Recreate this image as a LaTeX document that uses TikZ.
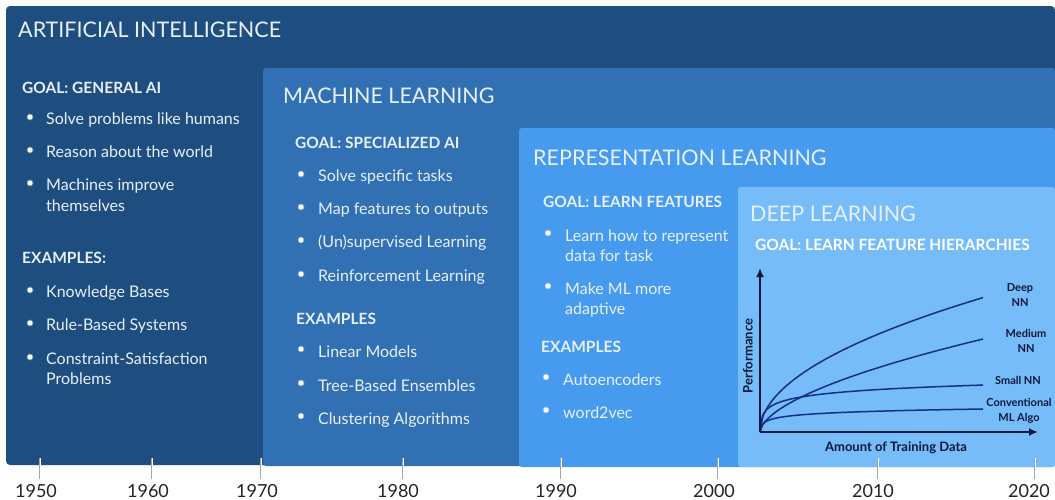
\documentclass[tikz,border=0pt]{standalone}
\usepackage{fontspec}
\setmainfont{Lato}
\definecolor{aiblue}{RGB}{30,78,128}
\definecolor{mlblue}{RGB}{50,112,180}
\definecolor{rlblue}{RGB}{70,155,238}
\definecolor{dlblue}{RGB}{118,188,248}
\definecolor{txtwhite}{RGB}{232,240,248}
\definecolor{curveblue}{RGB}{24,44,138}
\definecolor{chartink}{RGB}{14,24,58}
\definecolor{tickgray}{RGB}{165,165,165}
\definecolor{yeargray}{RGB}{35,35,35}
\usetikzlibrary{arrows.meta,positioning}

\begin{document}
\begin{tikzpicture}[x=1pt, y=-1pt,
    ttl/.style={anchor=base west, inner sep=0pt, text=txtwhite,
                font=\fontsize{21.5}{25}\selectfont},
    goal/.style={anchor=base west, inner sep=0pt, text=txtwhite,
                 font=\fontsize{15.5}{18}\selectfont\bfseries},
    item/.style={anchor=base west, inner sep=0pt, text=txtwhite,
                  font=\fontsize{16}{19}\selectfont},
    dot/.style={circle, fill=white, draw=white, draw opacity=0.35,
                line width=1.8pt, minimum size=5pt, inner sep=0pt},
    lbl/.style={align=center, inner sep=0pt, text=chartink,
                font=\fontsize{11}{15}\selectfont\bfseries},
    axis/.style={line width=2pt, chartink, -{Latex[length=9pt,width=8pt]}},
    curve/.style={line width=1.5pt, curveblue},
    tick/.style={draw=tickgray, double=white, double distance=1pt, line width=0.7pt},
    year/.style={anchor=base, inner sep=0pt, text=yeargray,
                 font=\fontsize{18}{20}\selectfont},
    >=stealth
  ]
    \useasboundingbox (0,0) rectangle (1055,499);

    % Nested boxes
    \fill[aiblue, rounded corners=4pt] (6,6) rectangle (1055,465);
    \fill[mlblue, rounded corners=3pt] (263,68) rectangle (1055,466);
    \fill[rlblue, rounded corners=3pt] (519,128) rectangle (1055,467);
    \fill[dlblue, rounded corners=3pt] (738,187) rectangle (1055,467);

    % Timeline ticks
    \coordinate (t50a) at (40,458);   \coordinate (t50b) at (40,479);
    \coordinate (t60a) at (152,458);  \coordinate (t60b) at (152,479);
    \coordinate (t70a) at (261,458);  \coordinate (t70b) at (261,479);
    \coordinate (t80a) at (403,458);  \coordinate (t80b) at (403,479);
    \coordinate (t90a) at (561,458);  \coordinate (t90b) at (561,479);
    \coordinate (t00a) at (718,458);  \coordinate (t00b) at (718,479);
    \coordinate (t10a) at (878,458);  \coordinate (t10b) at (878,479);
    \coordinate (t20a) at (1035,458); \coordinate (t20b) at (1035,479);
    \draw[tick] (t50a) -- (t50b);
    \draw[tick] (t60a) -- (t60b);
    \draw[tick] (t70a) -- (t70b);
    \draw[tick] (t80a) -- (t80b);
    \draw[tick] (t90a) -- (t90b);
    \draw[tick] (t00a) -- (t00b);
    \draw[tick] (t10a) -- (t10b);
    \draw[tick] (t20a) -- (t20b);

    % Years
    \node[year] (y1950) at (36,497)   {1950};
    \node[year] (y1960) at (148,497)  {1960};
    \node[year] (y1970) at (257,497)  {1970};
    \node[year] (y1980) at (398,497)  {1980};
    \node[year] (y1990) at (556,497)  {1990};
    \node[year] (y2000) at (714,497)  {2000};
    \node[year] (y2010) at (873,497)  {2010};
    \node[year] (y2020) at (1029,497) {2020};

    % Artificial intelligence
    \node[ttl]  (ai-title) at (18,37)  {ARTIFICIAL INTELLIGENCE};
    \node[goal] (ai-goal)  at (22,93)  {GOAL: GENERAL AI};
    \node[dot]  (ai-d1) at (30,117) {};
    \node[item] (ai-g1) at (46,124) {Solve problems like humans};
    \node[dot]  (ai-d2) at (30,150) {};
    \node[item] (ai-g2) at (46,157) {Reason about the world};
    \node[dot]  (ai-d3) at (30,183) {};
    \node[item] (ai-g3) at (46,190) {Machines improve};
    \node[item] (ai-g3b) at (46,211) {themselves};
    \node[goal] (ai-ex)  at (22,263) {EXAMPLES:};
    \node[dot]  (ai-d4) at (30,290) {};
    \node[item] (ai-e1) at (46,297) {Knowledge Bases};
    \node[dot]  (ai-d5) at (30,323) {};
    \node[item] (ai-e2) at (46,330) {Rule-Based Systems};
    \node[dot]  (ai-d6) at (30,357) {};
    \node[item] (ai-e3) at (46,364) {Constraint-Satisfaction};
    \node[item] (ai-e3b) at (46,384) {Problems};

    % Machine learning
    \node[ttl]  (ml-title) at (283,103) {MACHINE LEARNING};
    \node[goal] (ml-goal)  at (295,148) {GOAL: SPECIALIZED AI};
    \node[dot]  (ml-d1) at (301,174) {};
    \node[item] (ml-g1) at (318,181) {Solve specific tasks};
    \node[dot]  (ml-d2) at (301,207) {};
    \node[item] (ml-g2) at (318,214) {Map features to outputs};
    \node[dot]  (ml-d3) at (301,240) {};
    \node[item] (ml-g3) at (318,247) {(Un)supervised Learning};
    \node[dot]  (ml-d4) at (301,274) {};
    \node[item] (ml-g4) at (318,281) {Reinforcement Learning};
    \node[goal] (ml-ex)  at (296,324) {EXAMPLES};
    \node[dot]  (ml-d5) at (301,349) {};
    \node[item] (ml-e1) at (318,357) {Linear Models};
    \node[dot]  (ml-d6) at (301,383) {};
    \node[item] (ml-e2) at (318,391) {Tree-Based Ensembles};
    \node[dot]  (ml-d7) at (301,416) {};
    \node[item] (ml-e3) at (318,424) {Clustering Algorithms};

    % Representation learning
    \node[ttl]  (rl-title) at (533,165) {REPRESENTATION LEARNING};
    \node[goal] (rl-goal)  at (543,207) {GOAL: LEARN FEATURES};
    \node[dot]  (rl-d1) at (548,233) {};
    \node[item] (rl-g1) at (565,241) {Learn how to represent};
    \node[item] (rl-g1b) at (565,261) {data for task};
    \node[dot]  (rl-d2) at (548,286) {};
    \node[item] (rl-g2) at (565,294) {Make ML more};
    \node[item] (rl-g2b) at (565,314) {adaptive};
    \node[goal] (rl-ex)  at (541,352) {EXAMPLES};
    \node[dot]  (rl-d3) at (546,377) {};
    \node[item] (rl-e1) at (563,385) {Autoencoders};
    \node[dot]  (rl-d4) at (546,410) {};
    \node[item] (rl-e2) at (563,418) {word2vec};

    % Deep learning
    \node[ttl]  (dl-title) at (750,221) {DEEP LEARNING};
    \node[goal, text=white] (dl-goal) at (755,250) {GOAL: LEARN FEATURE HIERARCHIES};

    % Performance chart
    \coordinate (org)  at (760,432);
    \coordinate (ytip) at (760,268);
    \coordinate (xtip) at (1038,432);
    \draw[curve] plot[domain=0:223, samples=80, smooth] ({760+\x},{432-9*sqrt(\x)});
    \draw[curve] plot[domain=0.01:223, samples=80, smooth] ({760+\x},{432-4.04*(\x)^0.58});
    \draw[curve] plot[domain=0:223, samples=100, smooth] ({760+\x},{432-7.1*ln(1+\x/0.3)});
    \draw[curve] plot[domain=0:223, samples=100, smooth] ({760+\x},{432-3.48*ln(1+\x/0.3)});
    \draw[axis] (org) -- (ytip);
    \draw[axis] (org) -- (xtip);
    \node[lbl, rotate=90, font=\fontsize{13}{15}\selectfont\bfseries] (perf) at (748,356)
      {Performance};
    \node[lbl, font=\fontsize{13}{15}\selectfont\bfseries] (amount) at (896,448)
      {Amount of Training Data};
    \node[lbl] (deep)   at (1020,295)   {Deep\\NN};
    \node[lbl] (medium) at (1026,340.5) {Medium\\NN};
    \node[lbl] (small)  at (1018,380)   {Small NN};
    \node[lbl] (conv)   at (1019,410.5) {Conventional\\ML Algo};
  \end{tikzpicture}
\end{document}
